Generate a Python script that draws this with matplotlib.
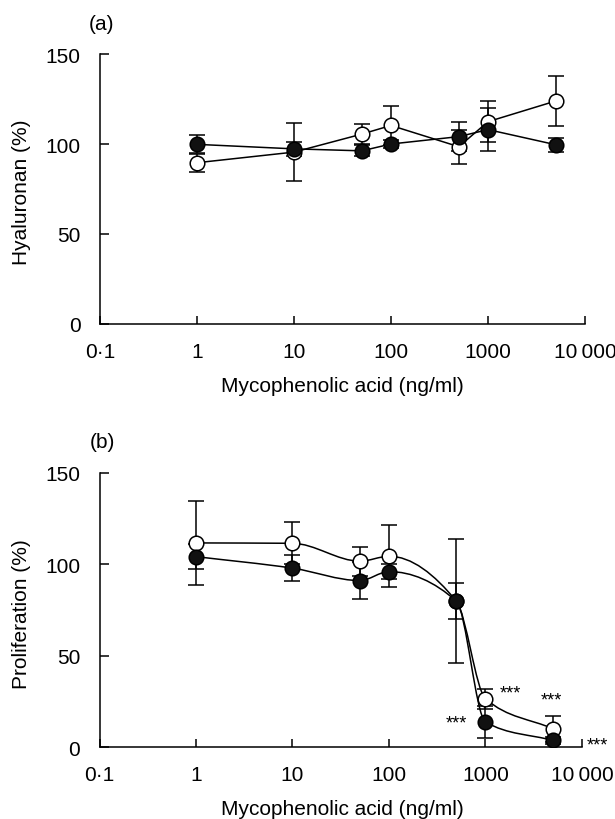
import numpy as np
import matplotlib
matplotlib.use('Agg')
import matplotlib.pyplot as plt
from matplotlib.path import Path
from matplotlib.patches import PathPatch

plt.rcParams['font.family'] = ['Liberation Sans', 'DejaVu Sans']

# Concentrations of mycophenolic acid (ng/ml)
conc = [1, 10, 50, 100, 500, 1000, 5000]

# (a) hyaluronan (%)
hya_open = [89.6, 95.5, 105.5, 110.3, 98.5, 112.4, 123.9]
hya_open_err = [5, 16, 5.5, 11, 9.5, 11.5, 14]
hya_filled = [99.8, 97.3, 96.2, 100, 104.1, 108, 99.6]
hya_filled_err = [5, 4, 3, 2, 8, 12, 4]

# (b) proliferation (%)
pro_open = [111.7, 111.5, 101.7, 104.4, 79.8, 26.4, 10]
pro_open_err = [23, 11.5, 8, 17, 34, 5.5, 7]
pro_filled = [104.2, 97.9, 91.1, 96, 79.8, 13.7, 3.6]
pro_filled_err = [7, 7, 10, 4, 10, 8.5, 2]

# significance marks in (b)
star_x = [1800, 4800, 500, 14500]
star_y = [29.5, 26, 13, 1]

x_ticks = [0.1, 1, 10, 100, 1000, 10000]
x_tick_labels = ['0\u00b71', '1', '10', '100', '1000', '10\u2009000']
y_ticks = [0, 50, 100, 150]

LW = 1.1
FS = 15


def smooth_path(xs, ys):
    # monotone cubic (pchip) curve in log-x space, as Bezier segments
    lx = np.log10(xs)
    y = np.asarray(ys, dtype=float)
    h = np.diff(lx)
    d = np.diff(y) / h
    n = len(lx)
    m = np.zeros(n)
    m[0] = d[0]
    m[-1] = d[-1]
    for k in range(1, n - 1):
        if d[k - 1] * d[k] <= 0:
            m[k] = 0
        else:
            w1 = 2 * h[k] + h[k - 1]
            w2 = h[k] + 2 * h[k - 1]
            m[k] = (w1 + w2) / (w1 / d[k - 1] + w2 / d[k])
    verts = [(lx[0], y[0])]
    codes = [Path.MOVETO]
    for i in range(n - 1):
        verts.append((lx[i] + h[i] / 3, y[i] + m[i] * h[i] / 3))
        verts.append((lx[i + 1] - h[i] / 3, y[i + 1] - m[i + 1] * h[i] / 3))
        verts.append((lx[i + 1], y[i + 1]))
        codes += [Path.CURVE4] * 3
    verts = [(10 ** vx, vy) for vx, vy in verts]
    return Path(verts, codes)


def style_axes(ax):
    ax.set_xscale('log')
    ax.set_xlim(0.1, 10000)
    ax.set_ylim(0, 150)
    ax.spines['top'].set_visible(False)
    ax.spines['right'].set_visible(False)
    for s in ['left', 'bottom']:
        ax.spines[s].set_linewidth(LW)
    ax.set_xticks(x_ticks)
    ax.set_xticklabels(x_tick_labels)
    ax.xaxis.set_minor_locator(matplotlib.ticker.NullLocator())
    ax.set_yticks(y_ticks)
    ax.tick_params(axis='x', direction='in', length=5.5, width=LW,
                   labelsize=FS, pad=13)
    ax.tick_params(axis='y', direction='in', length=6.5, width=LW,
                   labelsize=FS, pad=14)


def draw_points(ax, vals, errs, filled):
    ax.errorbar(conc, vals, yerr=errs, fmt='none', ecolor='k',
                elinewidth=LW, capsize=6, capthick=LW, zorder=2)
    ax.plot(conc, vals, 'o', ms=10.5, mew=LW, mec='k',
            mfc='#111111' if filled else 'white', zorder=5 if filled else 4)


fig = plt.figure(figsize=(6.15, 8.2), dpi=100)
ax1 = fig.add_axes([0.1626, 0.6037, 0.7886, 0.3292])
ax2 = fig.add_axes([0.1618, 0.0878, 0.7845, 0.3342])

# (a)
style_axes(ax1)
ax1.plot(conc, hya_open, '-', color='k', lw=LW, zorder=3)
ax1.plot(conc, hya_filled, '-', color='k', lw=LW, zorder=3)
draw_points(ax1, hya_open, hya_open_err, False)
draw_points(ax1, hya_filled, hya_filled_err, True)

# (b)
style_axes(ax2)
for vals in [pro_open, pro_filled]:
    ax2.add_patch(PathPatch(smooth_path(conc, vals), fill=False,
                            edgecolor='k', lw=LW, zorder=3))
draw_points(ax2, pro_open, pro_open_err, False)
draw_points(ax2, pro_filled, pro_filled_err, True)
for sx, sy in zip(star_x, star_y):
    ax2.text(sx, sy, '***', fontsize=13, ha='center', va='center',
             clip_on=False)

fig.text(102 / 615, 1 - 25 / 820, '(a)', fontsize=FS, ha='center', va='center')
fig.text(102 / 615, 1 - 443 / 820, '(b)', fontsize=FS, ha='center', va='center')
fig.text(22 / 615, 1 - 192 / 820, 'Hyaluronan (%)', fontsize=FS,
         rotation=90, ha='center', va='center')
fig.text(22 / 615, 1 - 614 / 820, 'Proliferation (%)', fontsize=FS,
         rotation=90, ha='center', va='center')
fig.text(342 / 615, 1 - 387 / 820, 'Mycophenolic acid (ng/ml)', fontsize=FS,
         ha='center', va='center')
fig.text(342 / 615, 1 - 810 / 820, 'Mycophenolic acid (ng/ml)', fontsize=FS,
         ha='center', va='center')

fig.savefig('out.png', dpi=100)
